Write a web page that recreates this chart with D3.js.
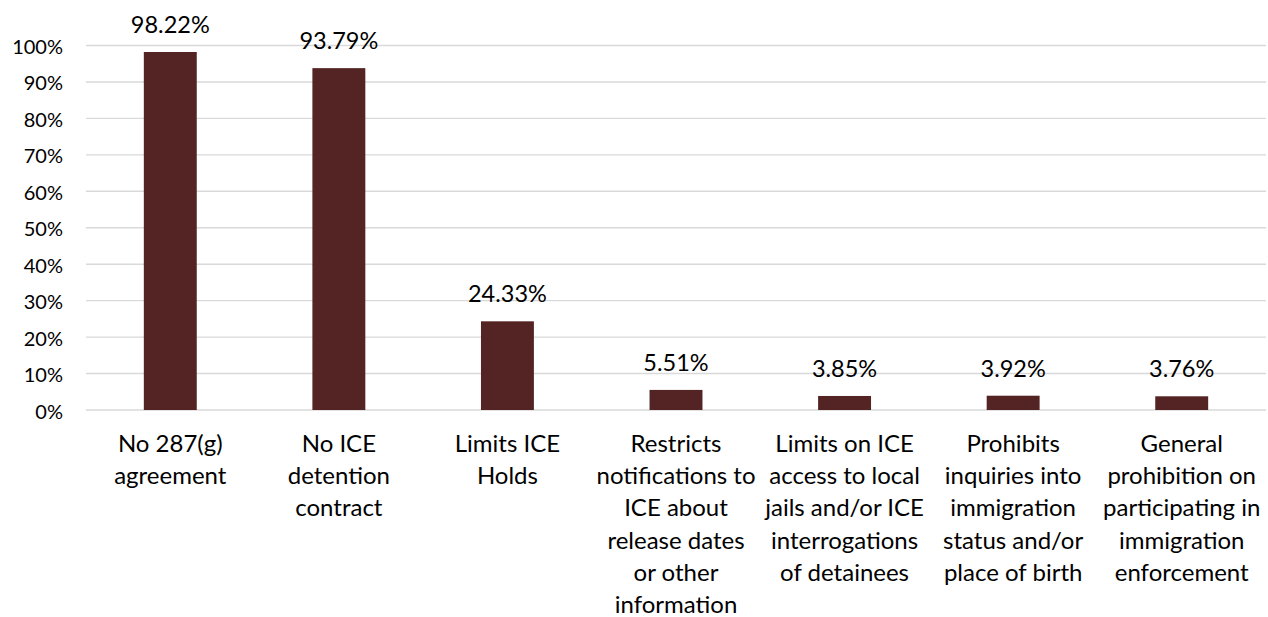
<!DOCTYPE html>
<html>
<head>
<meta charset="utf-8">
<script src="https://cdn.jsdelivr.net/npm/d3@7"></script>
<style>
  html, body { margin: 0; padding: 0; background: #fff; }
  svg { display: block; }
</style>
</head>
<body>
<svg id="chart" width="1268" height="617"></svg>
<script>
const categories = [
  ["No 287(g)", "agreement"],
  ["No ICE", "detention", "contract"],
  ["Limits ICE", "Holds"],
  ["Restricts", "notifications to", "ICE about", "release dates", "or other", "information"],
  ["Limits on ICE", "access to local", "jails and/or ICE", "interrogations", "of detainees"],
  ["Prohibits", "inquiries into", "immigration", "status and/or", "place of birth"],
  ["General", "prohibition on", "participating in", "immigration", "enforcement"]
];
const values = [98.22, 93.79, 24.33, 5.51, 3.85, 3.92, 3.76];
const yTicks = [0, 10, 20, 30, 40, 50, 60, 70, 80, 90, 100];

(function () {
const svg = d3.select("#chart");
const font = "Lato, 'Open Sans', sans-serif";
const mLeft = 86, mRight = 1266, mTop = 45.5, mBottom = 410;

const x = d3.scaleBand()
  .domain(d3.range(categories.length))
  .range([mLeft, mRight])
  .paddingInner(0.686)
  .paddingOuter(0.343);

const y = d3.scaleLinear().domain([0, 100]).range([mBottom, mTop]);

// gridlines
svg.append("g")
  .selectAll("line")
  .data(yTicks)
  .join("line")
  .attr("x1", mLeft).attr("x2", mRight)
  .attr("y1", d => y(d)).attr("y2", d => y(d))
  .attr("stroke", "#d9d9d9")
  .attr("stroke-width", 1.4);

// y tick labels
svg.append("g")
  .selectAll("text")
  .data(yTicks)
  .join("text")
  .attr("x", 63)
  .attr("y", d => y(d) + 1.5)
  .attr("dy", "0.35em")
  .attr("text-anchor", "end")
  .attr("font-family", font)
  .attr("font-size", 20)
  .attr("fill", "#000")
  .text(d => d + "%");

// bars
svg.append("g")
  .selectAll("rect")
  .data(values)
  .join("rect")
  .attr("x", (d, i) => x(i))
  .attr("width", x.bandwidth())
  .attr("y", d => y(d))
  .attr("height", d => y(0) - y(d))
  .attr("fill", "#542425");

// value labels
svg.append("g")
  .selectAll("text")
  .data(values)
  .join("text")
  .attr("x", (d, i) => x(i) + x.bandwidth() / 2)
  .attr("y", d => y(d) - 19)
  .attr("text-anchor", "middle")
  .attr("font-family", font)
  .attr("font-size", 23.5)
  .attr("fill", "#000")
  .text(d => d.toFixed(2) + "%");

// category labels
const cat = svg.append("g")
  .selectAll("text")
  .data(categories)
  .join("text")
  .attr("x", (d, i) => x(i) + x.bandwidth() / 2)
  .attr("y", 452)
  .attr("text-anchor", "middle")
  .attr("font-family", font)
  .attr("font-size", 24)
  .attr("fill", "#000");
cat.each(function(lines, i) {
  d3.select(this).selectAll("tspan")
    .data(lines)
    .join("tspan")
    .attr("x", x(i) + x.bandwidth() / 2)
    .attr("y", (l, j) => 452 + j * 32.2)
    .text(l => l);
});
})();
</script>
</body>
</html>
